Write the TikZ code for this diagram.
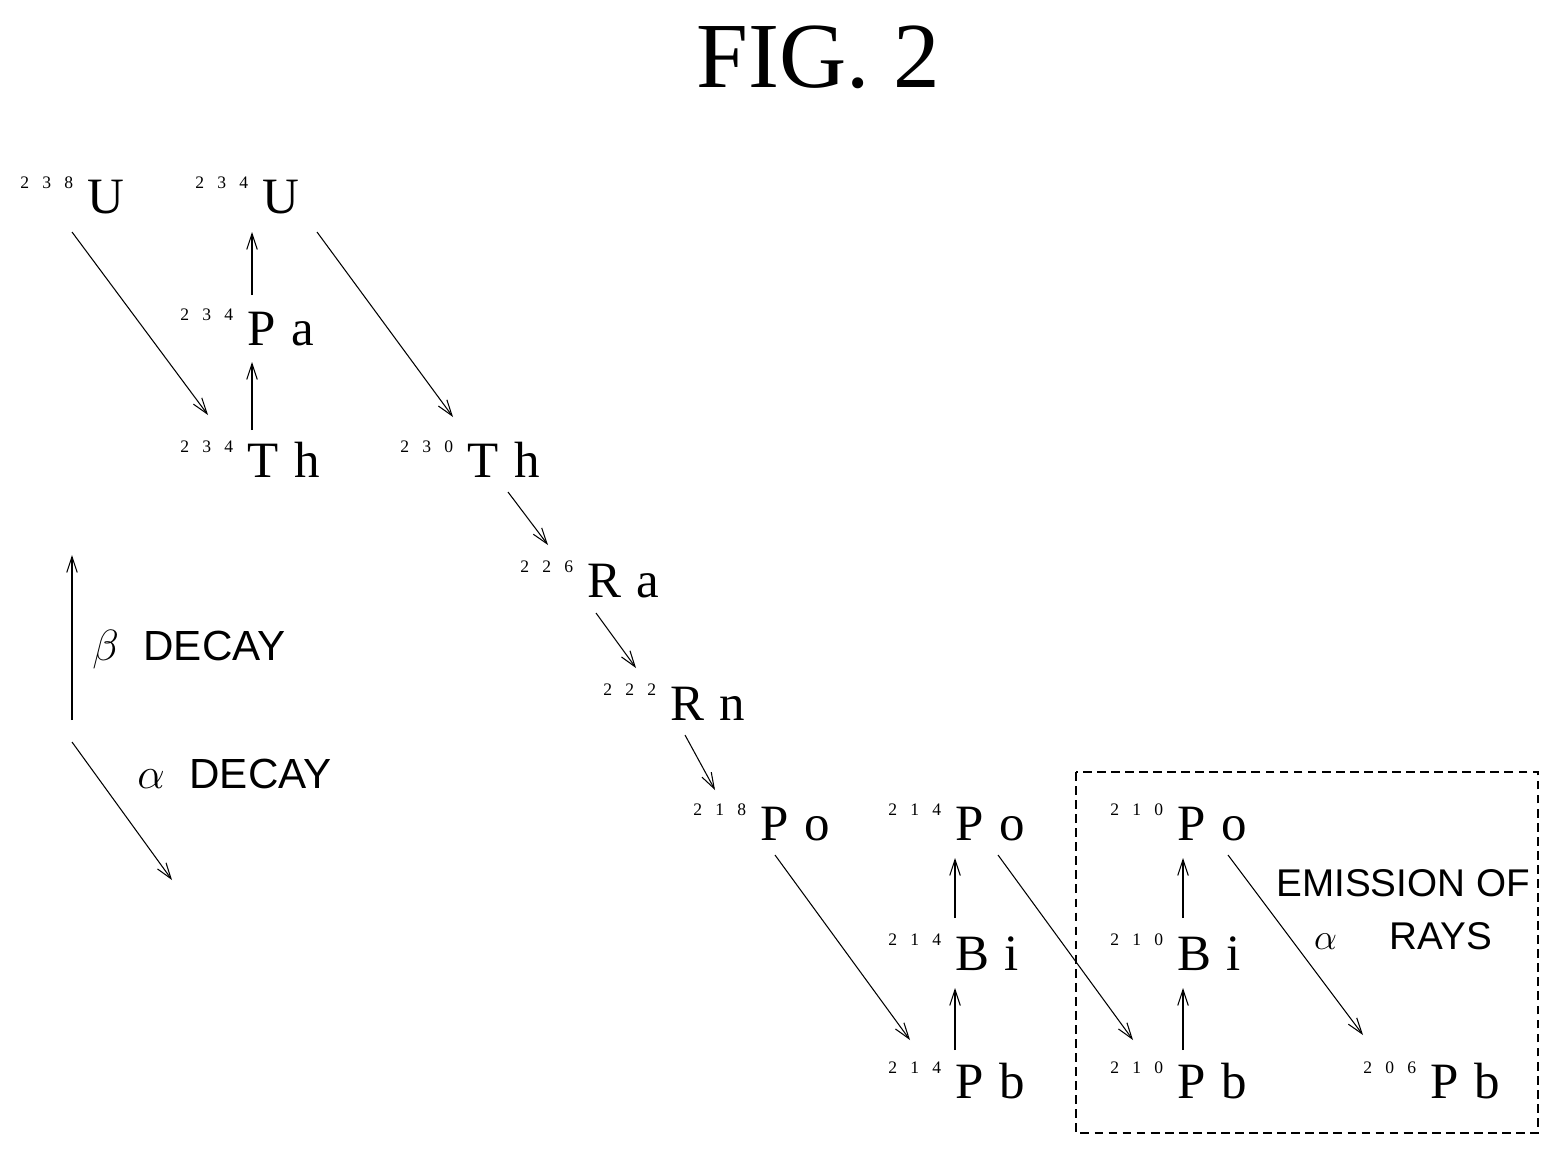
\documentclass[tikz,border=0pt]{standalone}
\usepackage{fontspec}
\setmainfont{Liberation Serif}
\setsansfont{Liberation Sans}
\usetikzlibrary{calc,arrows.meta}
\newcommand\massno[3]{\raisebox{14pt}{\fontsize{10}{10}\selectfont #1\hspace{7.5pt}#2\hspace{7.5pt}#3}\hspace{8pt}}
\newcommand\elem[2]{#1\hspace{9pt}#2}
\tikzset{
  iso/.style={anchor=base west,inner sep=0pt,font=\fontsize{29}{29}\selectfont},
  arr/.style={-{Straight Barb[length=9pt,width=6pt]},line width=0.6pt},
  lbl/.style={font=\sffamily\fontsize{24}{24}\selectfont,anchor=base west,inner sep=0pt}
}
\begin{document}
\begin{tikzpicture}[x=0.02cm,y=-0.02cm]
\useasboundingbox (0,0) rectangle (1561,1156);
\node[anchor=base,inner sep=0pt,font=\fontsize{53}{53}\selectfont] (fig) at (818,87) {FIG. 2};
% chain
\node[iso] (u238) at (20,213) {\massno238U};
\node[iso] (u234) at (195,213) {\massno234U};
\node[iso] (pa234) at (180,345) {\massno234\elem Pa};
\node[iso] (th234) at (180,477) {\massno234\elem Th};
\node[iso] (th230) at (400,477) {\massno230\elem Th};
\node[iso] (ra226) at (520,597) {\massno226\elem Ra};
\node[iso] (rn222) at (603,720) {\massno222\elem Rn};
\node[iso] (po218) at (693,840) {\massno218\elem Po};
\node[iso] (po214) at (888,840) {\massno214\elem Po};
\node[iso] (bi214) at (888,970) {\massno214\elem Bi};
\node[iso] (pb214) at (888,1098) {\massno214\elem Pb};
\node[iso] (po210) at (1110,840) {\massno210\elem Po};
\node[iso] (bi210) at (1110,970) {\massno210\elem Bi};
\node[iso] (pb210) at (1110,1098) {\massno210\elem Pb};
\node[iso] (pb206) at (1363,1098) {\massno206\elem Pb};
% decays
\draw[arr] ([shift={(52,19)}]u238.base west) -- ([shift={(28,-62)}]th234.base west);
\draw[arr] ([shift={(72,-47)}]th234.base west) -- ([shift={(72,17)}]pa234.base west);
\draw[arr] ([shift={(72,-50)}]pa234.base west) -- ([shift={(57,19)}]u234.base west);
\draw[arr] ([shift={(122,19)}]u234.base west) -- ([shift={(53,-60)}]th230.base west);
\draw[arr] ([shift={(108,15)}]th230.base west) -- ([shift={(28,-52)}]ra226.base west);
\draw[arr] ([shift={(76,16)}]ra226.base west) -- ([shift={(33,-52)}]rn222.base west);
\draw[arr] ([shift={(82,15)}]rn222.base west) -- ([shift={(22,-50)}]po218.base west);
\draw[arr] ([shift={(82,15)}]po218.base west) -- ([shift={(22,-58)}]pb214.base west);
\draw[arr] ([shift={(67,-48)}]pb214.base west) -- ([shift={(67,18)}]bi214.base west);
\draw[arr] ([shift={(67,-52)}]bi214.base west) -- ([shift={(67,18)}]po214.base west);
\draw[arr] ([shift={(110,15)}]po214.base west) -- ([shift={(23,-58)}]pb210.base west);
\draw[arr] ([shift={(73,-48)}]pb210.base west) -- ([shift={(73,18)}]bi210.base west);
\draw[arr] ([shift={(73,-52)}]bi210.base west) -- ([shift={(73,18)}]po210.base west);
\draw[arr] ([shift={(118,15)}]po210.base west) -- ([shift={(0,-63)}]pb206.base west);
% legend
\coordinate (bstart) at (72,720);
\coordinate (bend) at (72,555);
\coordinate (astart) at (72,742);
\coordinate (aend) at (172,880);
\draw[arr] (bstart) -- (bend);
\draw[arr] (astart) -- (aend);
\node[lbl] (beta) at (92,660) {$\beta$\hspace{14pt}DECAY};
\node[lbl] (alpha) at (137,788) {$\alpha$\hspace{14pt}DECAY};
% emission box
\draw[dashed,line width=0.6pt,dash pattern=on 5pt off 3pt] (1076,772) rectangle (1538,1133);
\node[font=\sffamily\fontsize{22}{30}\selectfont,align=center,inner sep=0pt] (emis) at (1403,910) {EMISSION OF\\$\alpha$\hspace{30pt}RAYS};
\end{tikzpicture}
\end{document}
